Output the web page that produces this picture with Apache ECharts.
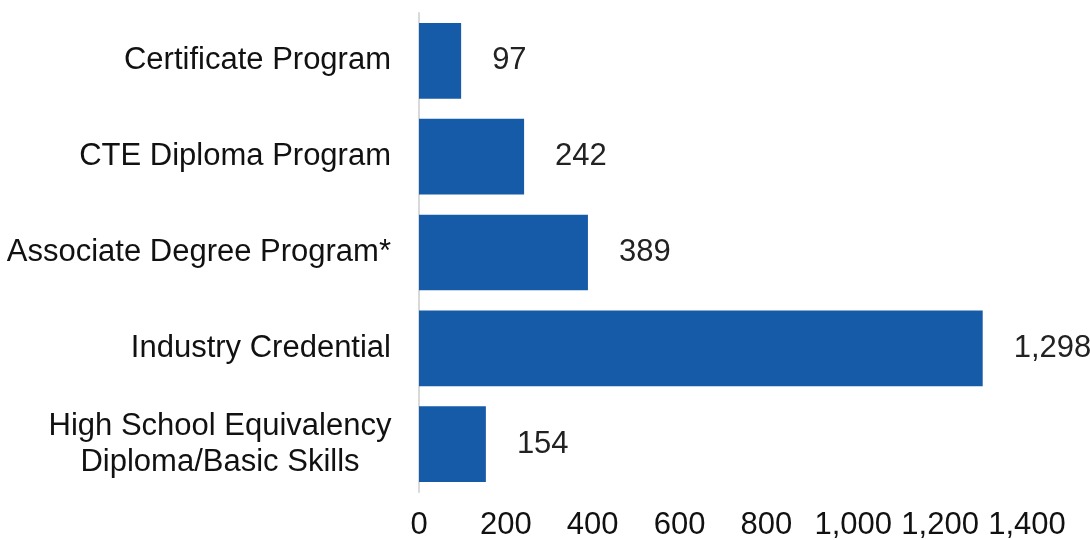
<!DOCTYPE html>
<html>
<head>
<meta charset="utf-8">
<script src="https://cdn.jsdelivr.net/npm/echarts@6/dist/echarts.min.js"></script>
<style>
	html, body { margin: 0; padding: 0; background: #fff; }
	#chart { width: 1090px; height: 540px; }
</style>
</head>
<body>
<div id="chart"></div>
<script type="text/javascript">

	// data, top to bottom as in the picture
	var categories = ['Certificate Program', 'CTE Diploma Program', 'Associate Degree Program*', 'Industry Credential', 'High School Equivalency\nDiploma/Basic Skills'];
	var values = [97, 242, 389, 1298, 154];
	var tickValues = [0, 200, 400, 600, 800, 1000, 1200, 1400];

	var chart = echarts.init(document.getElementById('chart'));
	chart.setOption({
		animation: false,
		textStyle: { fontFamily: 'Liberation Sans, Arial, sans-serif' },
		grid: { left: 419, right: 63, top: 13, bottom: 48, outerBoundsMode: 'none' },
		xAxis: {
			type: 'value',
			min: 0,
			max: 1400,
			interval: 200,
			axisLine: { show: false },
			axisTick: { show: false },
			splitLine: { show: false },
			axisLabel: {
				fontSize: 31,
				color: '#111',
				margin: 18,
				formatter: function (v) {
					return tickValues.indexOf(v) >= 0 ? v.toLocaleString('en-US') : '';
				}
			}
		},
		yAxis: {
			type: 'category',
			inverse: true,
			data: categories,
			axisLine: { show: true, lineStyle: { color: '#d9d9d9', width: 2 } },
			axisTick: { show: false },
			axisLabel: {
				fontSize: 31,
				color: '#111',
				margin: 28,
				lineHeight: 36,
				formatter: function (v) {
					if (v.indexOf('\n') < 0) return v;
					return v.split('\n').map(function (s) { return '{c|' + s + '}'; }).join('\n');
				},
				rich: {
					c: { width: 342, align: 'center', fontSize: 31, lineHeight: 36, color: '#111' }
				}
			}
		},
		series: [
			{
				type: 'bar',
				data: values,
				barCategoryGap: '21%',
				itemStyle: { color: '#165BA8' },
				label: {
					show: true,
					position: 'right',
					distance: 31,
					fontSize: 31,
					color: '#222',
					formatter: function (p) { return p.value.toLocaleString('en-US'); }
				}
			}
		]
	});

</script>
</body>
</html>
